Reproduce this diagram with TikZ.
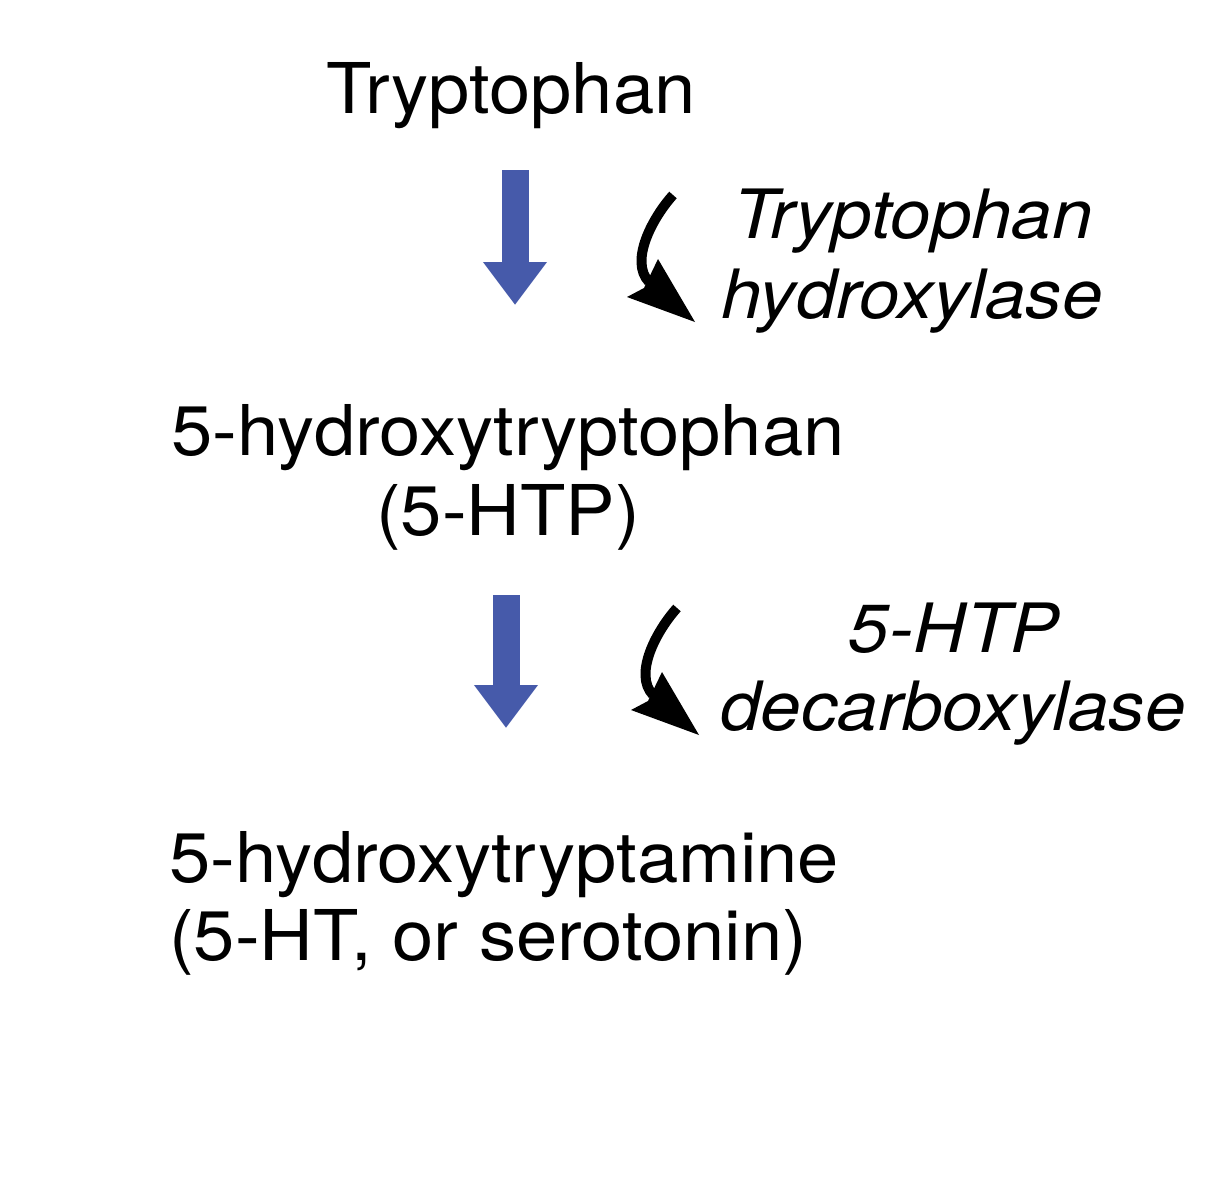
\documentclass[tikz,border=0pt]{standalone}
\usepackage{fontspec}
\setmainfont[FakeStretch=1.06]{TeX Gyre Heros}
\newfontfamily\enzfont[FakeStretch=1.07]{TeX Gyre Heros}
\definecolor{arrowblue}{RGB}{70,90,170}
\usetikzlibrary{arrows.meta}
\tikzset{
  metab/.style={inner sep=0pt, font=\fontsize{70}{84}\selectfont},
  enz/.style={inner sep=0pt, font=\enzfont\fontsize{68}{80}\selectfont\itshape},
  bluearr/.style={arrowblue, line width=27pt,
    -{Triangle[length=43pt, width=61pt]}},
  enzshaft/.style={black, line width=10pt},
  enzhead/.style={fill=black},
  enzarrow/.pic={
    \draw[enzshaft] (0,0) .. controls (-20,22) and (-44,66) .. (-24,87);
    \fill[enzhead] (22,127) -- (-46,102) -- (-29,93) -- (-15,64) -- cycle;
  }
}
\begin{document}
\begin{tikzpicture}[x=1pt,y=-1pt]
\useasboundingbox (0,0) rectangle (1207,1200);
% metabolites
\node[metab, anchor=base] (trp) at (511,113) {Tryptophan};
\node[metab, anchor=base] (htp1) at (508,455) {5-hydroxytryptophan};
\node[metab, anchor=base] (htp2) at (508,535) {(5-HTP)};
\node[metab, anchor=base west] (ser1) at (169,882) {5-hydroxytryptamine};
\node[metab, anchor=base west] (ser2) at (169,960) {(5-HT, or serotonin)};
% enzymes
\node[enz, anchor=base] (th1) at (913,238) {Tryptophan};
\node[enz, anchor=base] (th2) at (912,318) {hydroxylase};
\node[enz, anchor=base] (dc1) at (954,652) {5-HTP};
\node[enz, anchor=base] (dc2) at (953,730) {decarboxylase};
% blue reaction arrows
\coordinate (b1s) at (515,170);
\coordinate (b1e) at (515,305);
\coordinate (b2s) at (506,595);
\coordinate (b2e) at (506,728);
\draw[bluearr] (b1s) -- (b1e);
\draw[bluearr] (b2s) -- (b2e);
% curved enzyme arrows
\pic at (673,195) {enzarrow};
\pic at (677,608) {enzarrow};
\end{tikzpicture}
\end{document}
